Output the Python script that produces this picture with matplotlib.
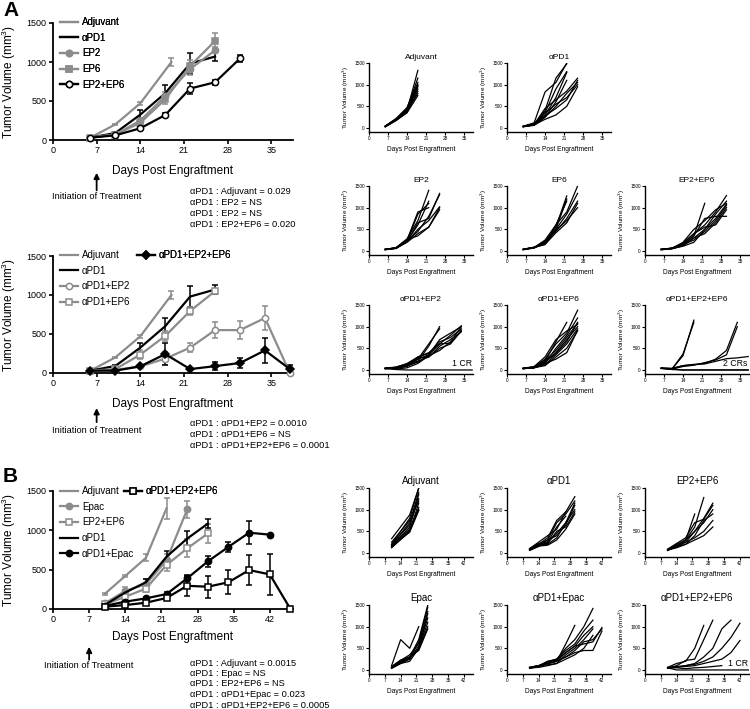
import matplotlib
matplotlib.use('Agg')
import matplotlib.pyplot as plt

plt.rcParams['font.family'] = ['Liberation Sans', 'DejaVu Sans']
plt.rcParams['mathtext.default'] = 'regular'

W, H = 750, 709
GREY = '#8c8c8c'

#
# Data: group means (main panels)
#
# Panel A, top
adj_a_days = [6, 10, 14, 19]
adj_a = [30, 200, 470, 1000]
adj_a_err = [5, 10, 20, 50]
pd1_a_days = [6, 10, 14, 18, 22, 26]
pd1_a = [30, 90, 325, 600, 980, 1070]
pd1_a_err = [5, 10, 65, 100, 135, 55]
ep2_a = [30, 70, 250, 560, 910, 1150]
ep2_a_err = [5, 10, 30, 50, 80, 40]
ep6_a = [30, 70, 220, 520, 950, 1270]
ep6_a_err = [5, 10, 30, 60, 80, 100]
ep26_a_days = [6, 10, 14, 18, 22, 26, 30]
ep26_a = [30, 60, 150, 320, 660, 740, 1045]
ep26_a_err = [5, 10, 15, 20, 70, 30, 50]

# Panel A, bottom
days_a2 = [6, 10, 14, 18, 22, 26, 30, 34, 38]
pd1e2_a = [30, 40, 85, 183, 325, 550, 550, 705, 0]
pd1e2_a_err = [5, 5, 15, 80, 55, 105, 120, 155, 0]
pd1e6_a_days = [6, 10, 14, 18, 22, 26]
pd1e6_a = [30, 50, 235, 475, 795, 1050]
pd1e6_a_err = [5, 10, 60, 60, 45, 25]
pd1e26_a = [30, 30, 85, 242, 50, 88, 128, 290, 50]
pd1e26_a_err = [5, 5, 10, 140, 10, 50, 65, 165, 50]

# Panel B
adj_b_days = [10, 14, 18, 22]
adj_b = [190, 420, 650, 1280]
adj_b_err = [10, 15, 45, 135]
epac_b_days = [10, 14, 18, 22, 26]
epac_b = [70, 230, 315, 620, 1267]
epac_b_err = [10, 50, 70, 80, 105]
ep26_b_days = [10, 14, 18, 22, 26, 30]
ep26_b = [60, 155, 260, 560, 770, 960]
ep26_b_err = [10, 20, 40, 80, 115, 125]
pd1_b_days = [10, 14, 18, 22, 26, 30]
pd1_b = [50, 210, 340, 665, 895, 1085]
pd1_b_err = [5, 30, 45, 70, 95, 55]
pd1epac_b_days = [10, 14, 18, 22, 26, 30, 34, 38, 42]
pd1epac_b = [40, 93, 135, 190, 390, 605, 790, 970, 945]
pd1epac_b_err = [5, 10, 15, 25, 35, 70, 65, 150, 0]
pd1e26_b_days = [10, 14, 18, 22, 26, 30, 34, 38, 42, 46]
pd1e26_b = [30, 50, 80, 140, 295, 283, 340, 495, 440, 0]
pd1e26_b_err = [5, 10, 15, 30, 135, 140, 150, 190, 265, 0]

#
# Data: individual mice (small panels)
#
days_s = [6, 10, 14, 18, 22, 26, 30, 34, 38]
days_sb = [10, 14, 18, 22, 26, 30, 34, 38, 42, 46]

adj_mice = [[30, 200, 400, 1330], [40, 210, 450, 1150], [35, 190, 380, 1000],
            [30, 180, 370, 950], [40, 200, 420, 900], [30, 170, 360, 850],
            [35, 190, 400, 800], [45, 220, 470, 1050], [30, 180, 350, 750],
            [40, 200, 430, 980]]
pd1_mice = [[40, 120, 830, 1050, 1500], [35, 90, 400, 1150, 1480],
            [30, 80, 350, 900, 1300], [40, 100, 300, 700, 1280],
            [30, 70, 250, 600, 1100], [35, 80, 450, 650, 850, 1150],
            [30, 60, 250, 500, 800, 1050], [40, 90, 350, 550, 700, 1000],
            [30, 70, 200, 300, 500, 950], [35, 80, 280, 450, 650, 1100]]
ep2_mice = [[40, 70, 250, 900, 1000], [35, 60, 230, 850, 1100],
            [30, 80, 280, 700, 1400], [40, 70, 220, 650, 750, 1330],
            [35, 65, 240, 450, 800, 1300], [30, 60, 200, 400, 550, 1000],
            [40, 75, 260, 350, 550, 950], [35, 60, 230, 600, 1150],
            [30, 70, 210, 500, 700, 1020]]
ep6_mice = [[40, 80, 200, 550, 1270], [35, 90, 150, 500, 1200],
            [30, 70, 180, 600, 1150], [40, 80, 250, 600, 900, 1500],
            [35, 75, 220, 500, 850, 1330], [30, 70, 200, 450, 750, 1150],
            [40, 85, 230, 480, 700, 1000], [35, 80, 150, 420, 650, 1100]]
ep26_mice = [[40, 60, 150, 350, 1100], [35, 70, 180, 400, 600, 900, 1280],
             [30, 55, 120, 300, 500, 850, 1150], [40, 60, 200, 500, 700, 950, 1100],
             [35, 65, 150, 250, 450, 700, 1050], [30, 50, 130, 300, 400, 650, 1000],
             [40, 60, 180, 400, 550, 600, 950], [35, 55, 110, 200, 500, 750, 1080],
             [30, 60, 140, 350, 750, 800, 800]]
pd1e2_mice = [[40, 50, 100, 200, 550, 1000], [30, 40, 80, 250, 600, 950],
              [35, 60, 150, 300, 400, 600, 800, 1020],
              [40, 50, 120, 250, 350, 700, 850, 1000],
              [30, 45, 100, 300, 380, 650, 750, 950],
              [35, 55, 130, 280, 300, 500, 600, 900],
              [40, 70, 140, 200, 300, 550, 700, 880],
              [30, 50, 90, 180, 350, 600, 620, 920],
              [35, 20, 50, 150, 330, 450, 650, 1000],
              [40, 10, 0, 0, 0, 0, 0, 0, 0]]
pd1e6_mice = [[40, 60, 200, 650, 1100], [35, 70, 250, 600, 850, 1380],
              [30, 50, 150, 500, 800, 1200], [40, 80, 300, 700, 900, 1050],
              [35, 60, 180, 400, 700, 1000], [30, 50, 120, 350, 600, 950],
              [40, 70, 220, 450, 750, 1080], [35, 55, 100, 300, 500, 900],
              [30, 60, 180, 380, 650, 1100], [40, 50, 150, 250, 400, 920]]
pd1e26_mice = [[40, 30, 330, 1150], [45, 25, 370, 1100],
               [40, 30, 100, 120, 150, 250, 450, 1100],
               [35, 20, 80, 110, 170, 230, 350, 1000],
               [40, 40, 100, 130, 140, 200, 260, 280, 310],
               [40, 10, 0, 0, 0, 0, 0, 0, 0],
               [35, 20, 0, 0, 0, 0, 0, 0, 0]]

adjb_days = [10, 18, 22]
adjb_mice = [[330, 880, 1500], [200, 800, 1500], [180, 700, 1400],
             [150, 600, 1350], [200, 650, 1250], [120, 500, 1150],
             [170, 550, 1050], [150, 480, 980], [250, 750, 1200],
             [130, 520, 1000]]
pd1b_mice = [[80, 200, 350, 750, 950, 1300], [70, 180, 300, 700, 900, 1200],
             [100, 250, 400, 550, 950], [60, 150, 250, 450, 700, 1150],
             [90, 200, 300, 400, 650, 1100], [70, 170, 200, 350, 700, 1000],
             [80, 200, 220, 500, 600, 950], [60, 160, 180, 300, 550, 900],
             [100, 220, 250, 600, 850]]
ep26b_mice = [[70, 150, 300, 900], [60, 200, 300, 600, 1280],
              [80, 180, 250, 500, 800, 1150], [70, 120, 200, 400, 750, 900],
              [60, 150, 200, 300, 400, 600], [90, 220, 350, 700, 780, 1100],
              [70, 160, 300, 500, 700, 1000], [60, 140, 250, 350, 500, 750]]
epacb_mice = [[100, 700, 500, 1000], [60, 200, 300, 700, 1500],
              [50, 180, 250, 650, 1450], [70, 220, 350, 600, 1350],
              [40, 150, 250, 550, 1200], [60, 200, 300, 500, 1100],
              [50, 170, 280, 480, 1000], [80, 230, 300, 450, 950],
              [40, 150, 200, 500, 1300]]
pd1epacb_mice = [[50, 80, 150, 200, 600, 1030],
                 [60, 100, 180, 250, 500, 700, 1000, 1420],
                 [50, 90, 200, 250, 450, 600, 900, 1150],
                 [40, 70, 150, 200, 400, 550, 800, 1000],
                 [60, 100, 120, 150, 350, 500, 700, 950],
                 [50, 80, 150, 200, 300, 450, 650, 700, 950],
                 [40, 90, 200, 220, 300, 400, 450, 450, 900],
                 [60, 100, 180, 250, 400, 550, 600, 650, 980],
                 [50, 60, 100, 150, 250, 350, 500, 800]]
pd1e26b_mice = [[60, 150, 200, 500, 1030], [40, 100, 220, 250, 700, 1150],
                [50, 80, 100, 150, 300, 500, 950, 1150],
                [40, 60, 100, 130, 200, 300, 500, 750, 1080],
                [50, 70, 80, 100, 150, 200, 250, 400, 680],
                [60, 50, 30, 50, 60, 80, 100],
                [50, 0, 0, 0, 0, 0, 0, 0, 0, 0]]

stats_a1 = ['αPD1 : Adjuvant = 0.029', 'αPD1 : EP2 = NS', 'αPD1 : EP2 = NS',
            'αPD1 : EP2+EP6 = 0.020']
stats_a2 = ['αPD1 : αPD1+EP2 = 0.0010', 'αPD1 : αPD1+EP6 = NS',
            'αPD1 : αPD1+EP2+EP6 = 0.0001']
stats_b = ['αPD1 : Adjuvant = 0.0015', 'αPD1 : Epac = NS', 'αPD1 : EP2+EP6 = NS',
           'αPD1 : αPD1+Epac = 0.023', 'αPD1 : αPD1+EP2+EP6 = 0.0005']

#
# Helpers
#
fig = plt.figure(figsize=(W / 100, H / 100), dpi=100)


def px_axes(left, top, right, bottom):
    return fig.add_axes([left / W, 1 - bottom / H, (right - left) / W,
                         (bottom - top) / H])


def main_axes(left, top, right, bottom, xmax, xticks, xlab_y):
    ax = px_axes(left, top, right, bottom)
    ax.set_xlim(0, xmax)
    ax.set_ylim(0, 1500)
    ax.set_xticks(xticks)
    ax.set_yticks([0, 500, 1000, 1500])
    for s in ('top', 'right'):
        ax.spines[s].set_visible(False)
    for s in ('left', 'bottom'):
        ax.spines[s].set_linewidth(1.3)
    ax.tick_params(direction='out', length=3, width=1.2, labelsize=6.5, pad=1.5)
    ax.set_ylabel('Tumor Volume (mm$^3$)', fontsize=8.5)
    ax.yaxis.set_label_coords(-0.145, 0.5)
    ax.set_xlabel('Days Post Engraftment', fontsize=8.5)
    ax.xaxis.set_label_coords(0.5, xlab_y)
    return ax


def series(ax, days, vals, errs, color, marker=None, mfc=None, label=None, z=3):
    ax.errorbar(days, vals, yerr=errs, fmt='none', ecolor=color, elinewidth=1.1,
                capsize=2.5, capthick=1.1, zorder=z, clip_on=False)
    line, = ax.plot(days, vals, color=color, lw=1.6, marker=marker, ms=4.5,
                    mfc=mfc if mfc else color, mec=color, mew=1.1, label=label,
                    zorder=z + 0.5, clip_on=False)
    return line


def legend_at(ax, handles, x, y):
    leg = ax.legend(handles=handles, loc='upper left', frameon=False,
                    bbox_to_anchor=(x / W, 1 - y / H),
                    bbox_transform=fig.transFigure, borderpad=0,
                    borderaxespad=0, fontsize=7, handlelength=1.8,
                    handletextpad=0.45, labelspacing=0.58)
    ax.add_artist(leg)


def arrow(ax, x, tip, tail, text_y):
    ax.annotate('', xy=(x, tip), xytext=(x, tail),
                xycoords=('data', 'axes fraction'),
                textcoords=('data', 'axes fraction'),
                arrowprops=dict(arrowstyle='-|>', color='k', lw=1.3,
                                mutation_scale=8, shrinkA=0, shrinkB=0))
    ax.text(x, text_y, 'Initiation of Treatment', transform=ax.get_xaxis_transform(),
            ha='center', va='center', fontsize=6.7)


def stats(lines, x, y0, dy):
    for k, s in enumerate(lines):
        fig.text(x / W, 1 - (y0 + k * dy) / H, s, fontsize=6.7, va='center')


def small(left, top, title, days, mice, xmax, xticks, tsize, note=None):
    bottom = top + 65 + 4.3
    ax = px_axes(left, top, left + 104, bottom)
    for m in mice:
        ax.plot(days[:len(m)], m, color='k', lw=0.9)
    ax.set_xlim(0, xmax)
    ax.set_ylim(-100, 1500)
    ax.set_xticks(xticks)
    ax.set_yticks([0, 500, 1000, 1500])
    for s in ('top', 'right'):
        ax.spines[s].set_visible(False)
    for s in ('left', 'bottom'):
        ax.spines[s].set_linewidth(1.0)
    ax.tick_params(direction='out', length=2, width=0.8, labelsize=3.4, pad=1)
    ax.set_ylabel('Tumor Volume (mm$^3$)', fontsize=4.6)
    ax.yaxis.set_label_coords(-0.17, 0.5)
    ax.set_xlabel('Days Post Engraftment', fontsize=4.8)
    ax.xaxis.set_label_coords(0.5, -0.2)
    ax.set_title(title, fontsize=tsize, pad=3)
    if note:
        ax.text(xmax - 0.5, 40, note, ha='right', va='bottom', fontsize=6.3)
    return ax


#
# Panel A, top
#
ax1 = main_axes(53, 23, 293, 140, 38.5, [0, 7, 14, 21, 28, 35], -0.21)
h = [series(ax1, adj_a_days, adj_a, adj_a_err, GREY, label='Adjuvant'),
     series(ax1, pd1_a_days, pd1_a, pd1_a_err, 'k', label='αPD1'),
     series(ax1, pd1_a_days, ep2_a, ep2_a_err, GREY, 'o', label='EP2'),
     series(ax1, pd1_a_days, ep6_a, ep6_a_err, GREY, 's', label='EP6'),
     series(ax1, ep26_a_days, ep26_a, ep26_a_err, 'k', 'o', 'w', label='EP2+EP6')]
legend_at(ax1, h, 60, 17)
arrow(ax1, 7, -0.28, -0.43, -0.48)
stats(stats_a1, 190, 192, 10.8)

#
# Panel A, bottom
#
ax2 = main_axes(53, 256, 293, 373, 38.5, [0, 7, 14, 21, 28, 35], -0.21)
h1 = [series(ax2, adj_a_days, adj_a, adj_a_err, GREY, label='Adjuvant'),
      series(ax2, pd1_a_days, pd1_a, pd1_a_err, 'k', label='αPD1'),
      series(ax2, days_a2, pd1e2_a, pd1e2_a_err, GREY, 'o', 'w', label='αPD1+EP2'),
      series(ax2, pd1e6_a_days, pd1e6_a, pd1e6_a_err, GREY, 's', 'w',
             label='αPD1+EP6')]
h2 = [series(ax2, days_a2, pd1e26_a, pd1e26_a_err, 'k', 'D', label='αPD1+EP2+EP6')]
legend_at(ax2, h1, 60, 250)
legend_at(ax2, h2, 137, 250)
arrow(ax2, 7, -0.30, -0.42, -0.49)
stats(stats_a2, 190, 423, 11.5)

#
# Panel B
#
ax3 = main_axes(53, 491, 293, 609, 46.5, [0, 7, 14, 21, 28, 35, 42], -0.19)
h1 = [series(ax3, adj_b_days, adj_b, adj_b_err, GREY, label='Adjuvant'),
      series(ax3, epac_b_days, epac_b, epac_b_err, GREY, 'o', label='Epac'),
      series(ax3, ep26_b_days, ep26_b, ep26_b_err, GREY, 's', 'w', label='EP2+EP6'),
      series(ax3, pd1_b_days, pd1_b, pd1_b_err, 'k', label='αPD1'),
      series(ax3, pd1epac_b_days, pd1epac_b, pd1epac_b_err, 'k', 'o', label='αPD1+Epac')]
h2 = [series(ax3, pd1e26_b_days, pd1e26_b, pd1e26_b_err, 'k', 's', 'w',
             label='αPD1+EP2+EP6')]
legend_at(ax3, h1, 60, 486)
legend_at(ax3, h2, 124, 486)
arrow(ax3, 7, -0.32, -0.43, -0.475)
stats(stats_b, 190, 663, 10.5)

#
# Small panels
#
tA = [0, 7, 14, 21, 28, 35]
tB = [0, 7, 14, 21, 28, 35, 42]
small(369, 63, 'Adjuvant', days_s, adj_mice, 38.3, tA, 6)
small(507, 63, 'αPD1', days_s, pd1_mice, 38.3, tA, 6)
small(369, 186, 'EP2', days_s, ep2_mice, 38.3, tA, 6)
small(507, 186, 'EP6', days_s, ep6_mice, 38.3, tA, 6)
small(645, 186, 'EP2+EP6', days_s, ep26_mice, 38.3, tA, 6)
small(369, 305, 'αPD1+EP2', days_s, pd1e2_mice, 38.3, tA, 6, '1 CR')
small(507, 305, 'αPD1+EP6', days_s, pd1e6_mice, 38.3, tA, 6)
small(645, 305, 'αPD1+EP2+EP6', days_s, pd1e26_mice, 38.3, tA, 6, '2 CRs')
small(369, 488, 'Adjuvant', adjb_days, adjb_mice, 46, tB, 7)
small(507, 488, 'αPD1', days_sb, pd1b_mice, 46, tB, 7)
small(645, 488, 'EP2+EP6', days_sb, ep26b_mice, 46, tB, 7)
small(369, 605, 'Epac', days_sb, epacb_mice, 46, tB, 7)
small(507, 605, 'αPD1+Epac', days_sb, pd1epacb_mice, 46, tB, 7)
small(645, 605, 'αPD1+EP2+EP6', days_sb, pd1e26b_mice, 46, tB, 7, '1 CR')

fig.text(3 / W, 1 - 10 / H, 'A', fontsize=15, fontweight='bold', va='center')
fig.text(3 / W, 1 - 476 / H, 'B', fontsize=15, fontweight='bold', va='center')

fig.savefig('out.png', dpi=100)
